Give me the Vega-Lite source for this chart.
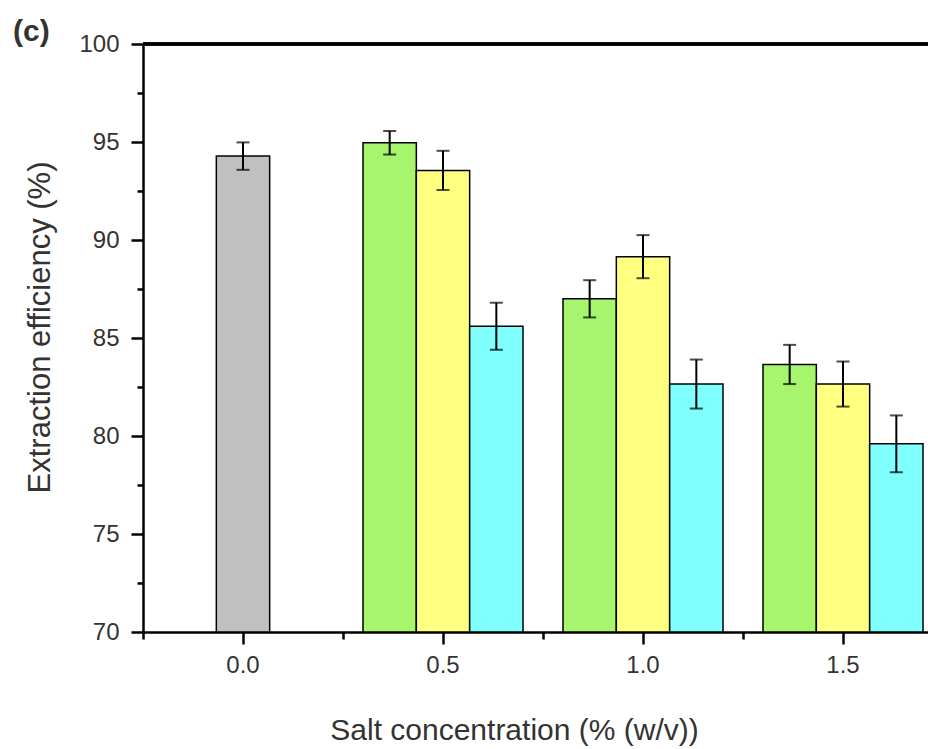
{
  "$schema": "https://vega.github.io/schema/vega-lite/v6.json",
  "autosize": "none",
  "width": 785,
  "height": 588,
  "padding": {"left": 143, "top": 44, "right": 0, "bottom": 117},
  "background": "white",
  "title": {"text": "(c)", "anchor": "start", "frame": "group", "dx": -130, "dy": 40, "offset": 1, "baseline": "alphabetic", "fontSize": 30, "font": "Liberation Sans", "fontWeight": "bold", "color": "#333333"},
  "data": {"values": [
    {"conc": "0.0", "series": "Control", "eff": 94.28, "err": 0.7},
    {"conc": "0.5", "series": "Salt 1", "eff": 94.96, "err": 0.6},
    {"conc": "0.5", "series": "Salt 2", "eff": 93.55, "err": 1.0},
    {"conc": "0.5", "series": "Salt 3", "eff": 85.6, "err": 1.2},
    {"conc": "1.0", "series": "Salt 1", "eff": 87.0, "err": 0.95},
    {"conc": "1.0", "series": "Salt 2", "eff": 89.15, "err": 1.1},
    {"conc": "1.0", "series": "Salt 3", "eff": 82.65, "err": 1.25},
    {"conc": "1.5", "series": "Salt 1", "eff": 83.65, "err": 1.0},
    {"conc": "1.5", "series": "Salt 2", "eff": 82.65, "err": 1.15},
    {"conc": "1.5", "series": "Salt 3", "eff": 79.6, "err": 1.45}
  ]},
  "config": {
    "view": {"stroke": null},
    "axis": {"grid": false, "domainColor": "black", "tickColor": "black", "domainWidth": 2.5, "tickWidth": 2.5,
      "labelFont": "Liberation Sans", "labelColor": "#333333",
      "titleFont": "Liberation Sans", "titleFontWeight": "normal", "titleColor": "#333333"}
  },
  "resolve": {"axis": {"x": "independent", "y": "independent"}},
  "layer": [
    {
      "transform": [{"filter": "datum.series === 'Control'"}],
      "mark": {"type": "bar", "stroke": "black", "strokeWidth": 1.5, "width": {"band": 0.2667}},
      "encoding": {
        "x": {"field": "conc", "type": "ordinal",
          "scale": {"domain": ["0.0", "0.5", "1.0", "1.5"], "range": [0, 800], "paddingInner": 0, "paddingOuter": 0},
          "axis": {"orient": "bottom", "bandPosition": 0, "labels": false, "domain": false, "tickSize": 7, "title": null}},
        "y": {"field": "eff", "type": "quantitative",
          "scale": {"domain": [70, 100], "zero": false, "nice": false},
          "axis": {"orient": "left", "values": [72.5, 77.5, 82.5, 87.5, 92.5, 97.5], "labels": false, "domain": false, "tickSize": 6, "title": null}},
        "y2": {"datum": 70},
        "color": {"field": "series", "type": "nominal",
          "scale": {"domain": ["Control", "Salt 1", "Salt 2", "Salt 3"], "range": ["#c0c0c0", "#a6f56c", "#ffff80", "#80ffff"]},
          "legend": null}
      }
    },
    {
      "transform": [{"filter": "datum.series !== 'Control'"}],
      "mark": {"type": "bar", "stroke": "black", "strokeWidth": 1.5},
      "encoding": {
        "x": {"field": "conc", "type": "ordinal",
          "axis": {"orient": "bottom", "labelAngle": 0, "tickSize": 12, "labelPadding": 9, "labelFontSize": 24,
            "title": "Salt concentration (% (w/v))", "titleFontSize": 30, "titleX": 371, "titleY": 107, "titleBaseline": "alphabetic"}},
        "xOffset": {"field": "series", "type": "nominal",
          "scale": {"domain": ["Salt 1", "Salt 2", "Salt 3"], "paddingInner": 0, "paddingOuter": 0.375}},
        "y": {"field": "eff", "type": "quantitative",
          "axis": {"orient": "left", "values": [70, 75, 80, 85, 90, 95, 100], "tickSize": 12, "labelPadding": 12, "labelFontSize": 24,
            "title": "Extraction efficiency (%)", "titleFontSize": 31, "titleX": -94, "titleY": 283, "titleBaseline": "alphabetic"}},
        "y2": {"datum": 70},
        "color": {"field": "series", "type": "nominal", "legend": null}
      }
    },
    {
      "transform": [{"filter": "datum.series !== 'Control'"}],
      "mark": {"type": "errorbar", "ticks": {"size": 13, "thickness": 2, "color": "black"}, "rule": {"strokeWidth": 2, "color": "black"}},
      "encoding": {
        "x": {"field": "conc", "type": "ordinal", "axis": null},
        "xOffset": {"field": "series", "type": "nominal"},
        "y": {"field": "eff", "type": "quantitative", "axis": null},
        "yError": {"field": "err"}
      }
    },
    {
      "transform": [{"filter": "datum.series === 'Control'"}],
      "mark": {"type": "errorbar", "ticks": {"size": 13, "thickness": 2, "color": "black"}, "rule": {"strokeWidth": 2, "color": "black"}},
      "encoding": {
        "x": {"field": "conc", "type": "ordinal", "axis": null},
        "y": {"field": "eff", "type": "quantitative", "axis": null},
        "yError": {"field": "err"}
      }
    },
    {
      "mark": {"type": "rule", "color": "black", "strokeWidth": 2.5},
      "encoding": {
        "y": {"datum": 100, "axis": null}
      }
    }
  ]
}
